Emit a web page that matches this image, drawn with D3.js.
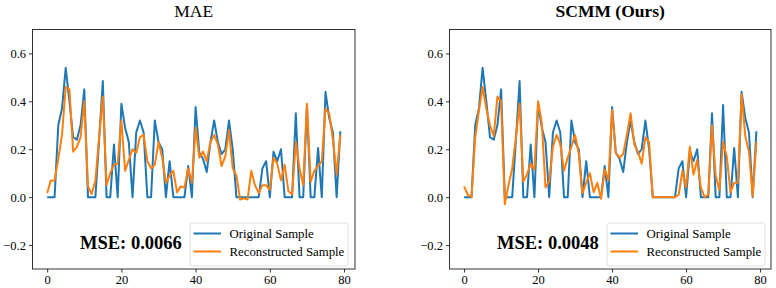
<!DOCTYPE html>
<html>
<head>
<meta charset="utf-8">
<script src="https://cdn.jsdelivr.net/npm/d3@7"></script>
<style>
  body { margin: 0; background: #fff; }
  svg { display: block; font-family: "Liberation Serif", "Times New Roman", serif; }
</style>
</head>
<body>
<div id="chart"></div>
<script>
'use strict';

// data
let steps = d3.range(80);

let original = [
  0, 0, 0, 0.30, 0.37, 0.54, 0.40, 0.25, 0.24, 0.30,
  0.45, 0, 0, 0, 0.24, 0.485, 0, 0, 0.22, 0,
  0.39, 0.29, 0.23, 0, 0.27, 0.32, 0.27, 0, 0, 0.32,
  0.23, 0.20, 0, 0.15, 0, 0, 0, 0, 0.13, 0,
  0.376, 0.185, 0.16, 0.105, 0.23, 0.32, 0.23, 0.18, 0.20, 0.32,
  0.20, 0, 0, 0, 0, 0, 0, 0, 0.12, 0.15,
  0, 0.19, 0.15, 0.20, 0, 0, 0, 0.35, 0, 0,
  0.385, 0, 0, 0.205, 0, 0.44, 0.33, 0.27, 0, 0.275
];

let maeRecon = [
  0.017, 0.07, 0.07, 0.16, 0.26, 0.46, 0.45, 0.19, 0.21, 0.25,
  0.40, 0.045, 0.013, 0.07, 0.25, 0.42, 0.05, 0.10, 0.135, 0.14,
  0.32, 0.11, 0.155, 0.20, 0.185, 0.25, 0.26, 0.15, 0.12, 0.135,
  0.23, 0.165, 0.06, 0.09, 0.11, 0.02, 0.045, 0.04, 0.12, 0.06,
  0.29, 0.165, 0.19, 0.15, 0.23, 0.26, 0.22, 0.13, 0.17, 0.28,
  0.12, 0.09, -0.01, -0.005, -0.01, 0.11, 0.05, 0.017, 0.05, 0.05,
  0.03, 0.165, 0.14, 0.07, 0.135, 0.025, 0.012, 0.23, 0.12, 0.05,
  0.39, 0.065, 0.11, 0.13, 0.15, 0.37, 0.35, 0.24, 0.095, 0.26
];

let scmmRecon = [
  0.045, 0.01, 0.0, 0.25, 0.36, 0.46, 0.37, 0.30, 0.255, 0.42,
  0.40, -0.03, 0.05, 0.12, 0.25, 0.39, 0.065, 0.095, 0.14, 0.115,
  0.40, 0.31, 0.04, 0.065, 0.21, 0.26, 0.22, 0.11, 0.165, 0.21,
  0.26, 0.18, 0.017, 0.06, 0.10, 0.02, 0.06, -0.007, 0.115, 0.07,
  0.365, 0.185, 0.165, 0.18, 0.26, 0.35, 0.22, 0.19, 0.14, 0.25,
  0.23, 0, 0, 0, 0, 0, 0, 0, 0.01, 0.11,
  0.04, 0.21, 0.095, 0.155, 0.04, 0, 0.01, 0.30, 0.09, 0.03,
  0.23, 0.17, 0.02, 0.06, 0.06, 0.43, 0.255, 0.19, 0.003, 0.23
];

let titles = ['MAE', 'SCMM (Ours)'];
let mseLabels = ['MSE: 0.0066', 'MSE: 0.0048'];
let seriesNames = ['Original Sample', 'Reconstructed Sample'];
let xTicks = [0, 20, 40, 60, 80];
let yTicks = [-0.2, 0.0, 0.2, 0.4, 0.6];

let w = 776;
let h = 288;
let blue = '#1f77b4';
let orange = '#ff7f0e';

let svg = d3.select('#chart').append('svg')
  .attr('width', w)
  .attr('height', h);

let panels = [
  { left: 32.5, right: 355, title: titles[0], bold: false, recon: maeRecon, mse: mseLabels[0] },
  { left: 449.5, right: 771, title: titles[1], bold: true, recon: scmmRecon, mse: mseLabels[1] }
];

let plotTop = 29.5;
let plotBottom = 269;

panels.forEach(p => {
  let x = d3.scaleLinear().domain([-3.95, 82.95]).range([p.left, p.right]);
  let y = d3.scaleLinear().domain([-0.3, 0.7]).range([plotBottom, plotTop]);
  let g = svg.append('g');

  let line = d3.line()
    .x((d, i) => x(steps[i]))
    .y(d => y(d));

  g.append('path')
    .datum(original)
    .attr('d', line)
    .attr('fill', 'none')
    .attr('stroke', blue)
    .attr('stroke-width', 2)
    .attr('stroke-linejoin', 'round');

  g.append('path')
    .datum(p.recon)
    .attr('d', line)
    .attr('fill', 'none')
    .attr('stroke', orange)
    .attr('stroke-width', 2)
    .attr('stroke-linejoin', 'round');

  // axes
  let xAxis = d3.axisBottom(x).tickValues(xTicks).tickSize(3.5).tickPadding(3);
  let yAxis = d3.axisLeft(y).tickValues(yTicks).tickSize(3.5).tickPadding(3)
    .tickFormat(d => d3.format('.1f')(d).replace('-', '\u2212'));

  let gx = g.append('g').attr('transform', `translate(0,${plotBottom})`).call(xAxis);
  let gy = g.append('g').attr('transform', `translate(${p.left},0)`).call(yAxis);
  [gx, gy].forEach(a => {
    a.select('.domain').remove();
    a.selectAll('line').attr('stroke', '#000').attr('stroke-width', 0.8);
    a.selectAll('text').attr('font-size', 12.5).attr('fill', '#000')
      .attr('font-family', '"Liberation Serif", serif');
  });

  // frame
  g.append('rect')
    .attr('x', p.left)
    .attr('y', plotTop)
    .attr('width', p.right - p.left)
    .attr('height', plotBottom - plotTop)
    .attr('fill', 'none')
    .attr('stroke', '#000')
    .attr('stroke-width', 0.8);

  // title
  g.append('text')
    .text(p.title)
    .attr('x', (p.left + p.right) / 2)
    .attr('y', 17)
    .attr('text-anchor', 'middle')
    .attr('font-size', 17.5)
    .attr('font-weight', p.bold ? 'bold' : 'normal');

  // MSE annotation
  g.append('text')
    .text(p.mse)
    .attr('x', p.left + 47.5)
    .attr('y', 248.5)
    .attr('font-size', 18.5)
    .attr('font-weight', 'bold');

  // legend
  let lx = p.left + 157.5;
  let ly = 223;
  let lg = g.append('g');
  lg.append('rect')
    .attr('x', lx)
    .attr('y', ly)
    .attr('width', 158)
    .attr('height', 43)
    .attr('rx', 2.5)
    .attr('fill', 'rgba(255,255,255,0.8)')
    .attr('stroke', '#d6d6d6')
    .attr('stroke-width', 0.8);

  [blue, orange].forEach((c, i) => {
    let yy = ly + 10.5 + i * 18;
    lg.append('line')
      .attr('x1', lx + 3.5)
      .attr('x2', lx + 31)
      .attr('y1', yy)
      .attr('y2', yy)
      .attr('stroke', c)
      .attr('stroke-width', 2);
    lg.append('text')
      .text(seriesNames[i])
      .attr('x', lx + 39.5)
      .attr('y', yy + 4.5)
      .attr('font-size', 12.8);
  });
});
</script>
</body>
</html>
